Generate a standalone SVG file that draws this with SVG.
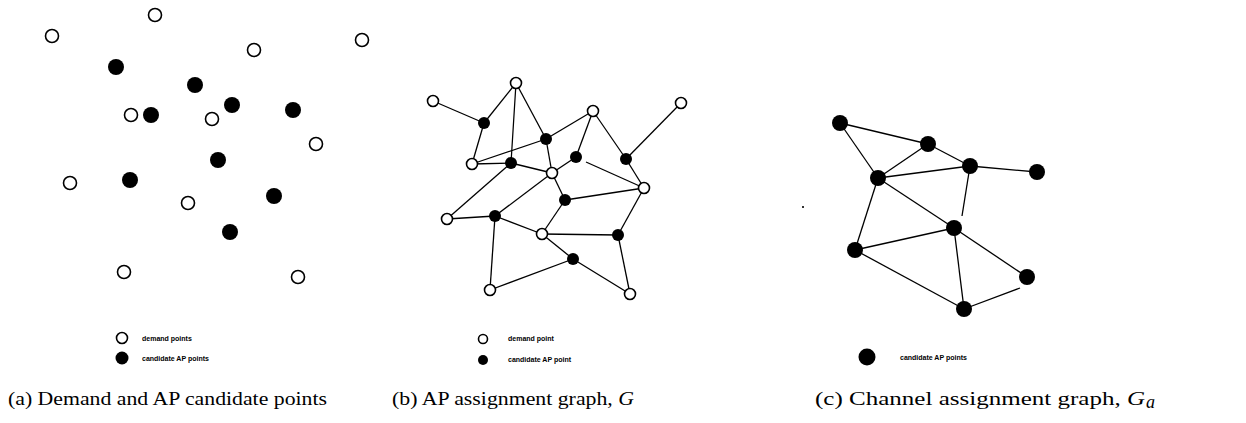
<svg xmlns="http://www.w3.org/2000/svg" width="1246" height="423" viewBox="0 0 1246 423">
<style>
.o{fill:#fff;stroke:#000;stroke-width:1.6}
.f{fill:#000;stroke:none}
.e{stroke:#000;stroke-width:1.3;fill:none}
.cap{font-family:"Liberation Serif",serif;font-size:18px;fill:#000}
.leg{font-family:"Liberation Sans",sans-serif;font-size:7px;font-weight:bold;fill:#000}
</style>
<rect width="1246" height="423" fill="#fff"/>
<!-- Panel (a) -->
<g id="panel-a">
<g id="a-d1"><circle class="o" cx="155" cy="15" r="6.5"/></g>
<g id="a-d2"><circle class="o" cx="52" cy="36" r="6.5"/></g>
<g id="a-d3"><circle class="o" cx="254" cy="50" r="6.5"/></g>
<g id="a-d4"><circle class="o" cx="362" cy="40" r="6.5"/></g>
<g id="a-d5"><circle class="o" cx="131" cy="115" r="6.5"/></g>
<g id="a-d6"><circle class="o" cx="212" cy="119" r="6.5"/></g>
<g id="a-d7"><circle class="o" cx="316" cy="144" r="6.5"/></g>
<g id="a-d8"><circle class="o" cx="70" cy="183" r="6.5"/></g>
<g id="a-d9"><circle class="o" cx="188" cy="203" r="6.5"/></g>
<g id="a-d10"><circle class="o" cx="124" cy="272" r="6.5"/></g>
<g id="a-d11"><circle class="o" cx="298" cy="277" r="6.5"/></g>
<g id="a-c1"><circle class="f" cx="116" cy="67" r="8"/></g>
<g id="a-c2"><circle class="f" cx="195" cy="85" r="8"/></g>
<g id="a-c3"><circle class="f" cx="151" cy="115" r="8"/></g>
<g id="a-c4"><circle class="f" cx="232" cy="105" r="8"/></g>
<g id="a-c5"><circle class="f" cx="293" cy="110" r="8"/></g>
<g id="a-c6"><circle class="f" cx="218" cy="160" r="8"/></g>
<g id="a-c7"><circle class="f" cx="130" cy="180" r="8"/></g>
<g id="a-c8"><circle class="f" cx="274" cy="196" r="8"/></g>
<g id="a-c9"><circle class="f" cx="230" cy="232" r="8"/></g>
<g id="a-legend">
<circle class="o" cx="122" cy="338" r="5.5"/>
<text class="leg" x="142" y="341">demand points</text>
<circle class="f" cx="122" cy="358" r="6.5"/>
<text class="leg" x="142" y="361">candidate AP points</text>
</g>
</g>
<!-- Panel (b) -->
<g id="connectors-b">
<line class="e" x1="433" y1="101" x2="484" y2="123"/>
<line class="e" x1="484" y1="123" x2="516" y2="83"/>
<line class="e" x1="484" y1="123" x2="472" y2="164"/>
<line class="e" x1="516" y1="83" x2="511" y2="163"/>
<line class="e" x1="516" y1="83" x2="546" y2="139"/>
<line class="e" x1="546" y1="139" x2="552" y2="173"/>
<line class="e" x1="472" y1="164" x2="546" y2="139"/>
<line class="e" x1="472" y1="164" x2="511" y2="163"/>
<line class="e" x1="511" y1="163" x2="552" y2="173"/>
<line class="e" x1="546" y1="139" x2="593" y2="111"/>
<line class="e" x1="593" y1="111" x2="576" y2="157"/>
<line class="e" x1="576" y1="157" x2="552" y2="173"/>
<line class="e" x1="593" y1="111" x2="626" y2="159"/>
<line class="e" x1="626" y1="159" x2="681" y2="103"/>
<line class="e" x1="626" y1="159" x2="644" y2="188"/>
<line class="e" x1="586" y1="162" x2="644" y2="188"/>
<line class="e" x1="552" y1="173" x2="565" y2="200"/>
<line class="e" x1="565" y1="200" x2="644" y2="188"/>
<line class="e" x1="565" y1="200" x2="542" y2="234"/>
<line class="e" x1="644" y1="188" x2="618" y2="235"/>
<line class="e" x1="618" y1="235" x2="630" y2="294"/>
<line class="e" x1="542" y1="234" x2="618" y2="235"/>
<line class="e" x1="511" y1="163" x2="447" y2="219"/>
<line class="e" x1="447" y1="219" x2="495" y2="216"/>
<line class="e" x1="495" y1="216" x2="552" y2="173"/>
<line class="e" x1="495" y1="216" x2="542" y2="234"/>
<line class="e" x1="495" y1="216" x2="490" y2="290"/>
<line class="e" x1="542" y1="234" x2="573" y2="259"/>
<line class="e" x1="573" y1="259" x2="490" y2="290"/>
<line class="e" x1="573" y1="259" x2="630" y2="294"/>
</g>
<g id="panel-b">
<g id="b-d1"><circle class="o" cx="516" cy="83" r="5.5"/></g>
<g id="b-d2"><circle class="o" cx="433" cy="101" r="5.5"/></g>
<g id="b-d3"><circle class="o" cx="593" cy="111" r="5.5"/></g>
<g id="b-d4"><circle class="o" cx="681" cy="103" r="5.5"/></g>
<g id="b-d5"><circle class="o" cx="472" cy="164" r="5.5"/></g>
<g id="b-d6"><circle class="o" cx="552" cy="173" r="5.5"/></g>
<g id="b-d7"><circle class="o" cx="644" cy="188" r="5.5"/></g>
<g id="b-d8"><circle class="o" cx="447" cy="219" r="5.5"/></g>
<g id="b-d9"><circle class="o" cx="542" cy="234" r="5.5"/></g>
<g id="b-d10"><circle class="o" cx="490" cy="290" r="5.5"/></g>
<g id="b-d11"><circle class="o" cx="630" cy="294" r="5.5"/></g>
<g id="b-c1"><circle class="f" cx="484" cy="123" r="6"/></g>
<g id="b-c2"><circle class="f" cx="546" cy="139" r="6"/></g>
<g id="b-c3"><circle class="f" cx="576" cy="157" r="6"/></g>
<g id="b-c4"><circle class="f" cx="626" cy="159" r="6"/></g>
<g id="b-c5"><circle class="f" cx="511" cy="163" r="6"/></g>
<g id="b-c6"><circle class="f" cx="565" cy="200" r="6"/></g>
<g id="b-c7"><circle class="f" cx="495" cy="216" r="6"/></g>
<g id="b-c8"><circle class="f" cx="618" cy="235" r="6"/></g>
<g id="b-c9"><circle class="f" cx="573" cy="259" r="6"/></g>
<g id="b-legend">
<circle class="o" cx="483" cy="339" r="4.5"/>
<text class="leg" x="508" y="341" font-size="5">demand point</text>
<circle class="f" cx="483" cy="360" r="5"/>
<text class="leg" x="508" y="362" font-size="5">candidate AP point</text>
</g>
</g>
<!-- Panel (c) -->
<g id="connectors-c">
<line class="e" x1="840" y1="123" x2="928" y2="144"/>
<line class="e" x1="840" y1="123" x2="878" y2="178"/>
<line class="e" x1="928" y1="144" x2="878" y2="178"/>
<line class="e" x1="928" y1="144" x2="970" y2="166"/>
<line class="e" x1="878" y1="178" x2="970" y2="166"/>
<line class="e" x1="970" y1="166" x2="1037" y2="172"/>
<line class="e" x1="970" y1="166" x2="962" y2="216"/>
<line class="e" x1="878" y1="178" x2="954" y2="228"/>
<line class="e" x1="878" y1="178" x2="855" y2="250"/>
<line class="e" x1="855" y1="250" x2="954" y2="228"/>
<line class="e" x1="855" y1="250" x2="964" y2="309"/>
<line class="e" x1="954" y1="228" x2="964" y2="309"/>
<line class="e" x1="954" y1="228" x2="1027" y2="277"/>
<line class="e" x1="1020" y1="288" x2="964" y2="309"/>
</g>
<g id="panel-c">
<g id="c-n1"><circle class="f" cx="840" cy="123" r="8"/></g>
<g id="c-n2"><circle class="f" cx="928" cy="144" r="8"/></g>
<g id="c-n3"><circle class="f" cx="970" cy="166" r="8"/></g>
<g id="c-n4"><circle class="f" cx="1037" cy="172" r="8"/></g>
<g id="c-n5"><circle class="f" cx="878" cy="178" r="8"/></g>
<g id="c-n6"><circle class="f" cx="954" cy="228" r="8"/></g>
<g id="c-n7"><circle class="f" cx="855" cy="250" r="8"/></g>
<g id="c-n8"><circle class="f" cx="1027" cy="277" r="8"/></g>
<g id="c-n9"><circle class="f" cx="964" cy="309" r="8"/></g>
<rect x="802" y="206" width="2" height="2" fill="#333"/>
<g id="c-legend">
<circle class="f" cx="867" cy="357" r="8.5"/>
<text class="leg" x="900" y="360" font-size="6.5">candidate AP points</text>
</g>
</g>
<!-- Captions -->
<g id="captions">
<text class="cap" x="8" y="405" textLength="319" lengthAdjust="spacingAndGlyphs">(a) Demand and AP candidate points</text>
<text class="cap" x="392" y="405" textLength="242" lengthAdjust="spacingAndGlyphs">(b) AP assignment graph, <tspan font-style="italic">G</tspan></text>
<text class="cap" x="815" y="405" textLength="330" lengthAdjust="spacingAndGlyphs">(c) Channel assignment graph, <tspan font-style="italic">G</tspan></text>
<text class="cap" x="1146" y="408" font-size="12" font-style="italic">a</text>
</g>
</svg>
